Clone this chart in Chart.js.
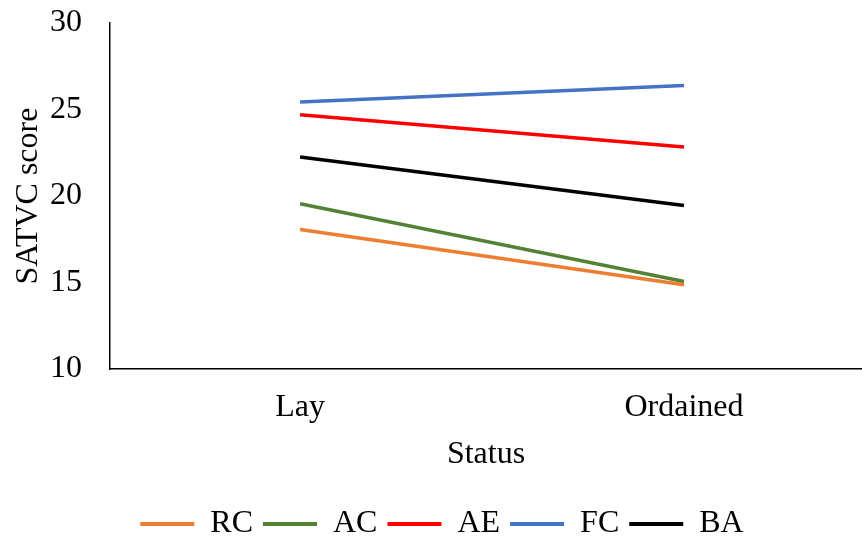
<!DOCTYPE html>
<html lang="en">
<head>
  <meta charset="UTF-8" />
  <title>SATVC score by Status</title>
  <script src="https://cdn.jsdelivr.net/npm/chart.js"></script>
  <style>
    html, body {
      margin: 0;
      padding: 0;
      background: #fff;
    }
    .chart-container {
      width: 862px;
      height: 546px;
    }
  </style>
</head>
<body>
  <div class="chart-container">
    <canvas id="satvcChart"></canvas>
  </div>

  <script>
    // Categories and series
    const categories = ['Lay', 'Ordained'];
    const rcScores = [18.06, 14.87];
    const acScores = [19.55, 15.06];
    const aeScores = [24.69, 22.83];
    const fcScores = [25.44, 26.39];
    const baScores = [22.25, 19.45];
    const yTicks = [10, 15, 20, 25, 30];

    const fontFamily = '"Liberation Serif", "Times New Roman", serif';

    function toPoints(values) {
      return values.map((v, i) => ({ x: i, y: v }));
    }

    function series(label, values, color) {
      return {
        label: label,
        data: toPoints(values),
        borderColor: color,
        backgroundColor: color,
        borderWidth: 3.5,
        pointRadius: 0,
        pointHoverRadius: 0,
        tension: 0,
        fill: false
      };
    }

    const ctx = document.getElementById('satvcChart').getContext('2d');

    const chart = new Chart(ctx, {
      type: 'line',
      data: {
        datasets: [
          series('RC', rcScores, '#ED7D31'),
          series('AC', acScores, '#548235'),
          series('AE', aeScores, '#FF0000'),
          series('FC', fcScores, '#4472C4'),
          series('BA', baScores, '#000000')
        ]
      },
      options: {
        responsive: true,
        maintainAspectRatio: false,
        animation: false,
        layout: {
          // left padding recentres the legend under the reference
          padding: { top: 23, right: 0, left: 22, bottom: -4 }
        },
        scales: {
          x: {
            type: 'linear',
            min: -0.495,
            max: 1.4635,
            grid: { display: false, drawTicks: false },
            border: { display: true, color: '#000', width: 1.5 },
            afterBuildTicks: (scale) => {
              scale.ticks = categories.map((c, i) => ({ value: i }));
            },
            afterFit: (scale) => {
              scale.height = 129;
            },
            ticks: {
              color: '#000',
              padding: 19,
              maxRotation: 0,
              font: { family: fontFamily, size: 32 },
              callback: (value) => categories[value]
            },
            title: {
              display: true,
              text: 'Status',
              color: '#000',
              font: { family: fontFamily, size: 32 },
              padding: { top: 0, bottom: 24 }
            }
          },
          y: {
            min: yTicks[0],
            max: yTicks[yTicks.length - 1],
            grid: { display: false, drawTicks: false },
            border: { display: true, color: '#000', width: 1.5 },
            afterBuildTicks: (scale) => {
              scale.ticks = yTicks.map(v => ({ value: v }));
            },
            afterFit: (scale) => {
              scale.width = 88;
              scale.paddingTop = 0;
              scale.paddingBottom = 0;
            },
            ticks: {
              color: '#000',
              padding: 28,
              font: { family: fontFamily, size: 32 }
            },
            title: {
              display: true,
              text: 'SATVC score',
              color: '#000',
              font: { family: fontFamily, size: 32 },
              padding: { top: -13, bottom: 0 }
            }
          }
        },
        plugins: {
          tooltip: { enabled: false },
          legend: {
            position: 'bottom',
            labels: {
              color: '#000',
              boxWidth: 54,
              boxHeight: 4,
              padding: 10,
              font: { family: fontFamily, size: 32 },
              generateLabels: (chart) => {
                return Chart.defaults.plugins.legend.labels.generateLabels(chart).map(item => {
                  item.fillStyle = item.strokeStyle;
                  item.lineWidth = 0;
                  return item;
                });
              }
            }
          }
        }
      }
    });
  </script>
</body>
</html>
